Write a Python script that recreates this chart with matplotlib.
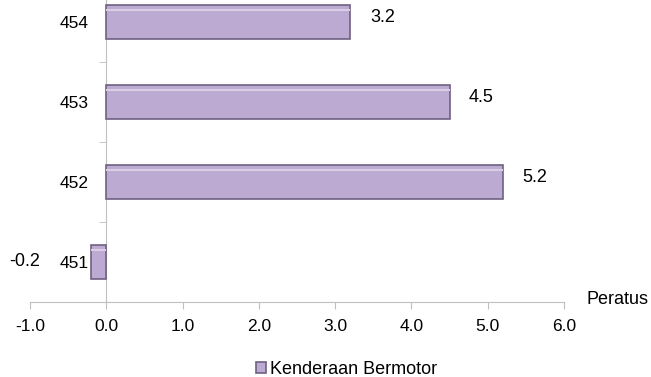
import matplotlib.pyplot as plt
from matplotlib.ticker import FixedLocator

plt.rcParams['font.family'] = ['Liberation Sans', 'DejaVu Sans']

kategori = ['451', '452', '453', '454']
nilai = [-0.2, 5.2, 4.5, 3.2]
xticks = [-1.0, 0.0, 1.0, 2.0, 3.0, 4.0, 5.0, 6.0]

warna = '#BCAAD2'
tepi = '#6F6180'
garis = '#BFBFBF'

fig = plt.figure(figsize=(6.51, 3.77), dpi=100)
ax = fig.add_axes([30 / 651, 75 / 377, 534 / 651, 302 / 377])

pos = list(range(len(kategori)))
ax.barh(pos, nilai, height=0.43, color=warna, edgecolor=tepi, linewidth=1.2,
        label='Kenderaan Bermotor', zorder=3)
# jalur cerah di atas setiap bar
for p, v in zip(pos, nilai):
    ax.plot([0, v], [p + 0.15, p + 0.15], color='#D9CDE6', lw=1.5,
            solid_capstyle='butt', zorder=4)

for p, v in zip(pos, nilai):
    if v >= 0:
        ax.annotate(f'{v:.1f}', (v, p), xytext=(14, 3), textcoords='offset points',
                    ha='left', va='center', fontsize=13)
    else:
        ax.annotate(f'{v:.1f}', (v, p), xytext=(-37, 0), textcoords='offset points',
                    ha='right', va='center', fontsize=13)

ax.set_xlim(-1.0, 6.0)
ax.set_ylim(-0.5, 3.275)
ax.set_xticks(xticks)
ax.set_xticklabels([f'{t:.1f}' for t in xticks])
ax.set_yticks(pos)
ax.set_yticklabels(kategori)
ax.yaxis.set_minor_locator(FixedLocator([0.5, 1.5, 2.5]))

ax.spines['top'].set_visible(False)
ax.spines['right'].set_visible(False)
ax.spines['left'].set_position(('data', 0))
ax.spines['left'].set_color(garis)
ax.spines['bottom'].set_color(garis)
ax.tick_params(axis='x', colors=garis, labelcolor='black', labelsize=12.5,
               length=5, pad=7)
ax.tick_params(axis='y', which='major', length=0, pad=12.5, labelcolor='black',
               labelsize=12.5)
ax.tick_params(axis='y', which='minor', length=5, color=garis)

fig.text(587 / 651, 1 - 300 / 377, 'Peratus', fontsize=13, va='center', ha='left')

fig.legend(loc='lower center', bbox_to_anchor=(0.532, -0.045), frameon=False,
           fontsize=13, handlelength=0.55, handleheight=0.55, handletextpad=0.2)

fig.savefig('out.png', dpi=100)
